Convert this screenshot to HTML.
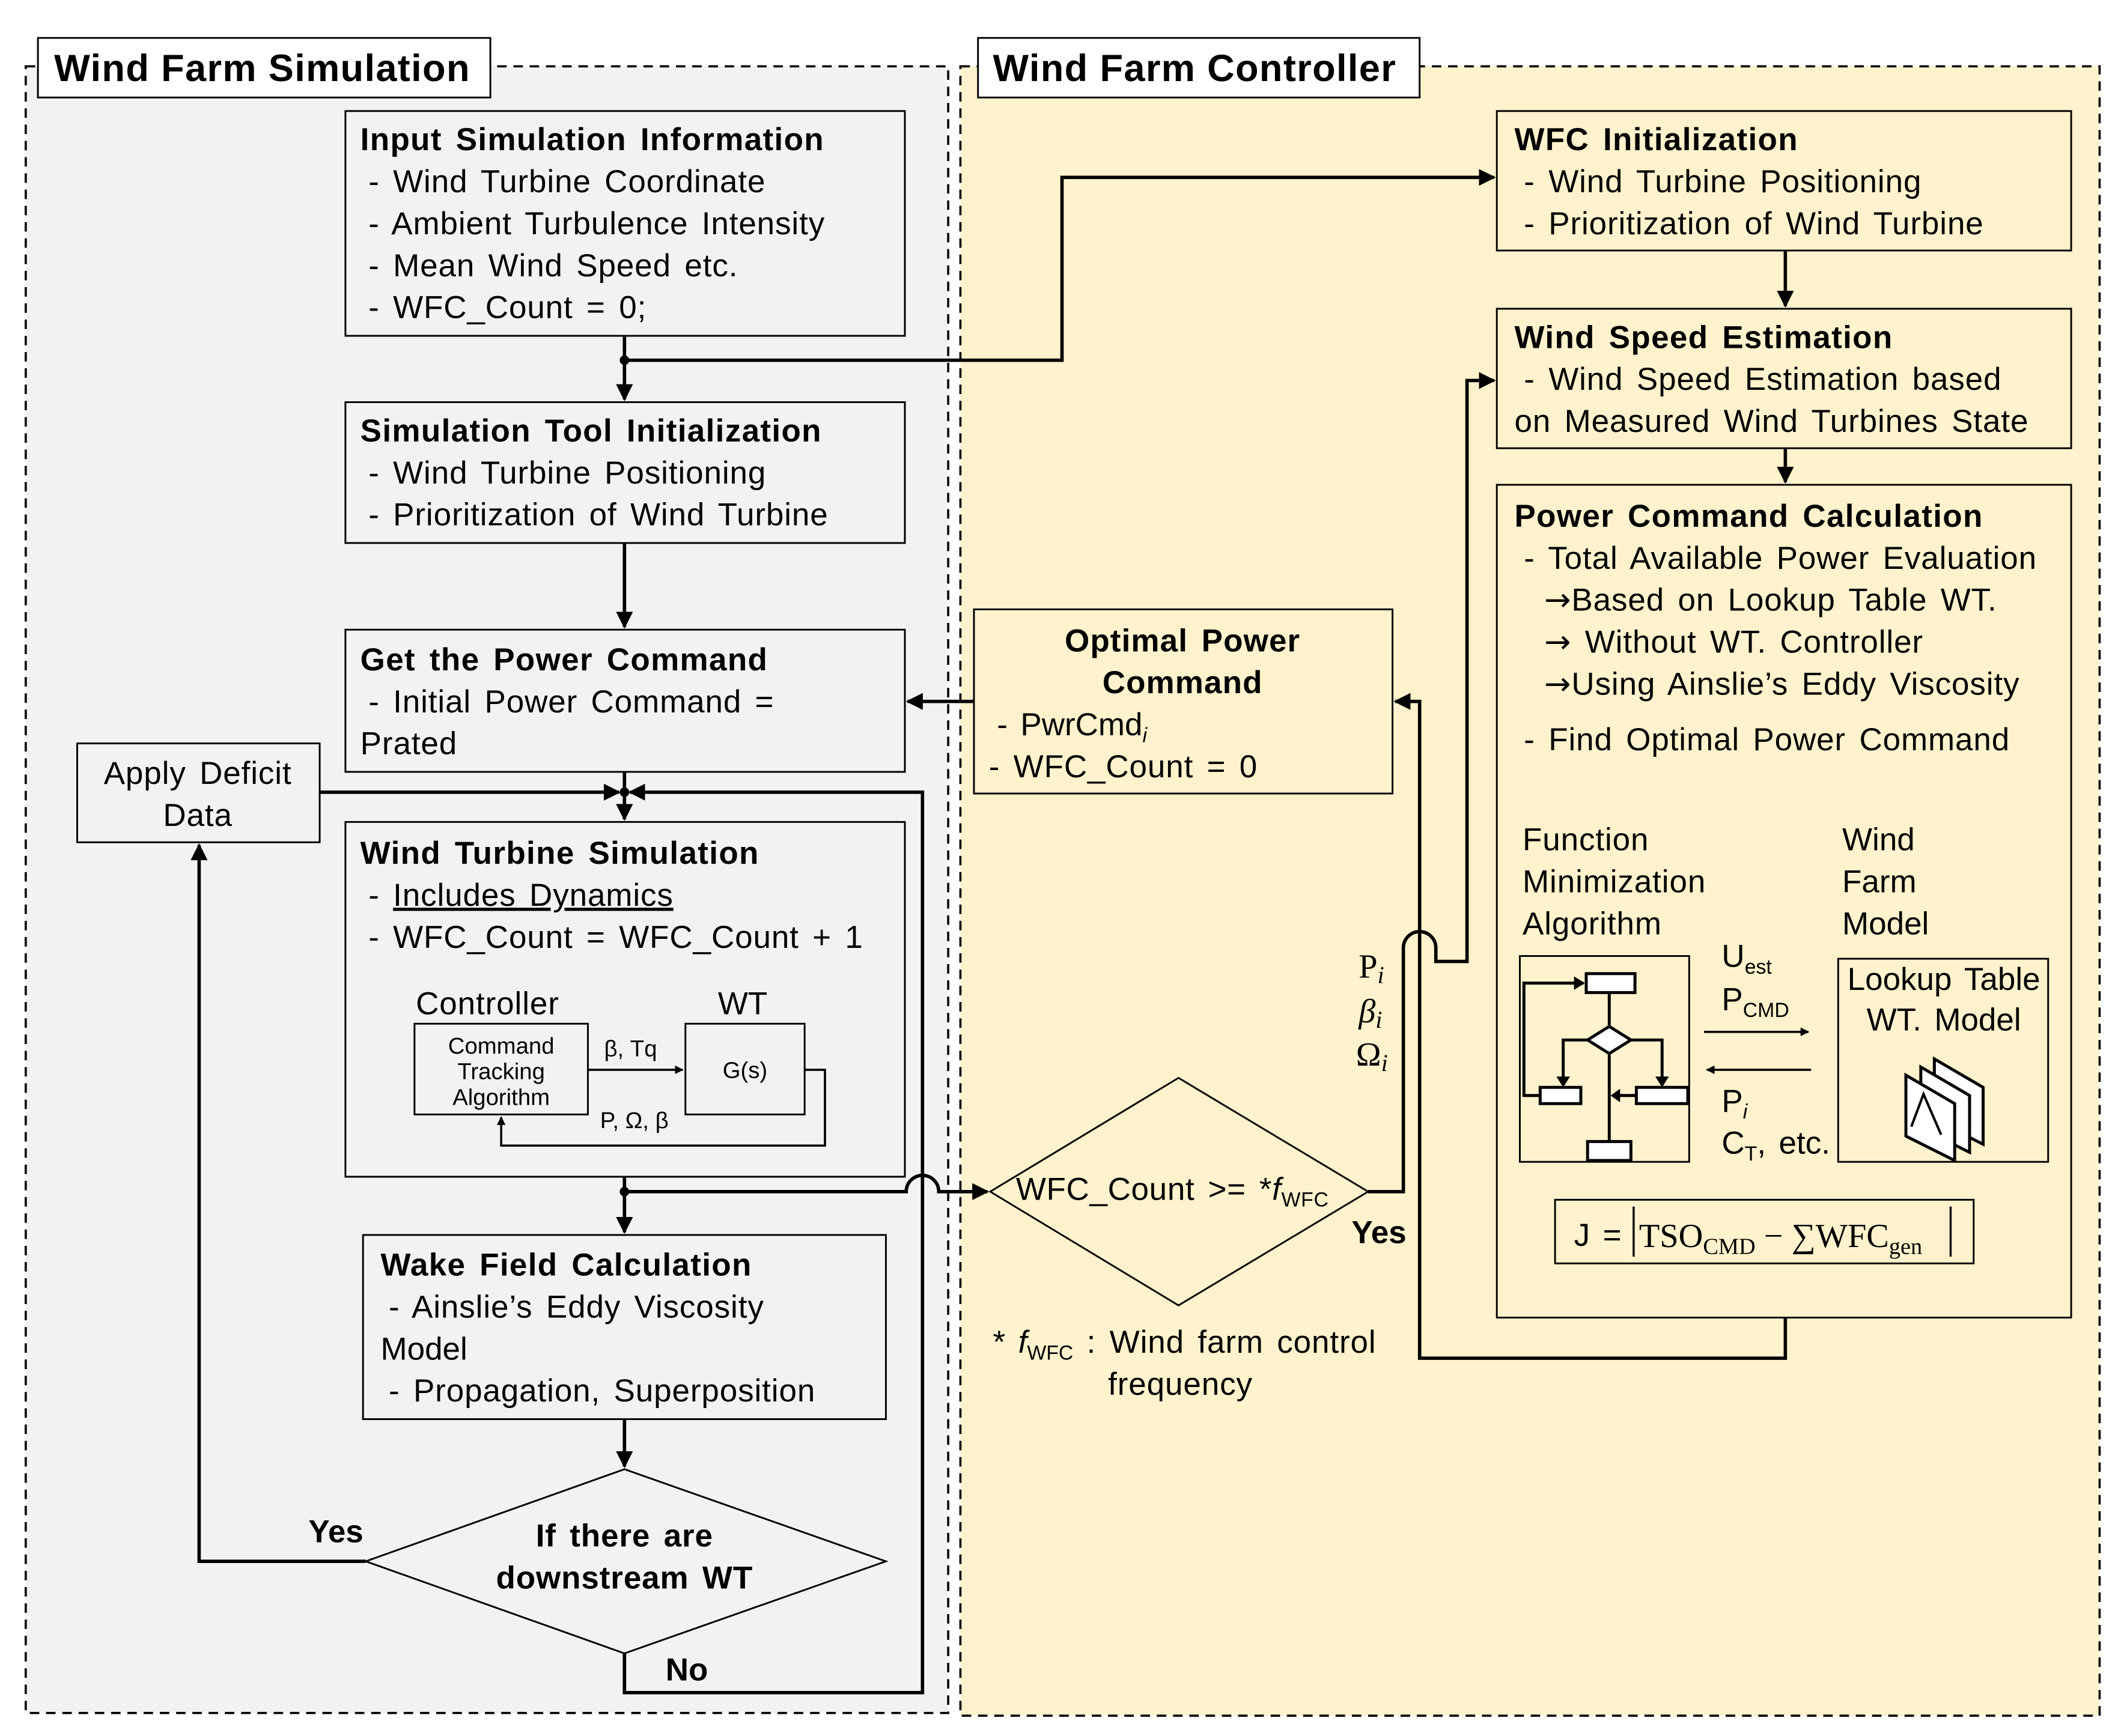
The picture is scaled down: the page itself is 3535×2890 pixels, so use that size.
<!DOCTYPE html>
<html><head><meta charset="utf-8"><style>html,body{margin:0;padding:0;background:#fff}svg{display:block}</style></head>
<body>
<svg xmlns="http://www.w3.org/2000/svg" width="3535" height="2890" viewBox="0 0 1568 1282" preserveAspectRatio="none" font-family="Liberation Sans, Arial, sans-serif">
<defs>
<marker id="a" viewBox="0 0 10 10" refX="9" refY="5" markerWidth="5" markerHeight="5" orient="auto"><path d="M0,0L10,5L0,10z" fill="#000"/></marker>
<marker id="s" viewBox="0 0 10 10" refX="9" refY="5" markerWidth="4" markerHeight="4" orient="auto"><path d="M0,0L10,5L0,10z" fill="#000"/></marker>
</defs>
<rect width="1568" height="1282" fill="#fff"/>
<rect x="19" y="49" width="681" height="1216" fill="#f2f2f2" stroke="#000" stroke-width="1.6" stroke-dasharray="7,5"/>
<rect x="709" y="49" width="841" height="1218" fill="#fff2cc" stroke="#000" stroke-width="1.6" stroke-dasharray="7,5"/>
<rect x="28" y="28" width="334" height="44" fill="#fff" stroke="#000" stroke-width="1.3"/>
<text x="40" y="60" font-size="28" font-weight="bold" letter-spacing="0.6">Wind Farm Simulation</text>
<rect x="722" y="28" width="326" height="44" fill="#fff" stroke="#000" stroke-width="1.3"/>
<text x="733" y="60" font-size="28" font-weight="bold" letter-spacing="0.6">Wind Farm Controller</text>

<g fill="none" stroke="#000" stroke-width="1.3">
<rect x="255" y="82" width="413" height="166"/>
<rect x="255" y="297" width="413" height="104"/>
<rect x="255" y="465" width="413" height="105"/>
<rect x="57" y="549" width="179" height="73"/>
<rect x="255" y="607" width="413" height="262"/>
<rect x="306" y="756" width="128" height="67"/>
<rect x="506" y="756" width="88" height="67"/>
<rect x="268" y="912" width="386" height="136"/>
<path d="M461,1085 L654,1153 L461,1221 L270,1153 Z"/>
<rect x="719" y="450" width="309" height="136"/>
<path d="M870,796 L1010,880 L870,964 L731,880 Z"/>
<rect x="1105" y="82" width="424" height="103"/>
<rect x="1105" y="228" width="424" height="103"/>
<rect x="1105" y="358" width="424" height="615"/>
<rect x="1122" y="706" width="125" height="152"/>
<rect x="1357" y="708" width="155" height="150"/>
<rect x="1148" y="886" width="309" height="47"/>
</g>

<g font-size="23.5" word-spacing="3">
<text x="266" y="111" font-weight="bold" letter-spacing="0.6">Input Simulation Information</text>
<text x="272" y="142" letter-spacing="0.4">- Wind Turbine Coordinate</text>
<text x="272" y="173" letter-spacing="0.4">- Ambient Turbulence Intensity</text>
<text x="272" y="204" letter-spacing="0.4">- Mean Wind Speed etc.</text>
<text x="272" y="235" letter-spacing="0.4">- WFC_Count = 0;</text>
<text x="266" y="326" font-weight="bold" letter-spacing="0.6">Simulation Tool Initialization</text>
<text x="272" y="357" letter-spacing="0.4">- Wind Turbine Positioning</text>
<text x="272" y="388" letter-spacing="0.4">- Prioritization of Wind Turbine</text>
<text x="266" y="495" font-weight="bold" letter-spacing="0.6">Get the Power Command</text>
<text x="272" y="526" letter-spacing="0.4">- Initial Power Command =</text>
<text x="266" y="557" letter-spacing="0.4">Prated</text>
<text x="146" y="579" text-anchor="middle" letter-spacing="0.4">Apply Deficit</text>
<text x="146" y="610" text-anchor="middle" letter-spacing="0.4">Data</text>
<text x="266" y="638" font-weight="bold" letter-spacing="0.6">Wind Turbine Simulation</text>
<text x="272" y="669" letter-spacing="0.4">- <tspan text-decoration="underline">Includes Dynamics</tspan></text>
<text x="272" y="700" letter-spacing="0.4">- WFC_Count = WFC_Count + 1</text>
<text x="307" y="749" letter-spacing="0.4">Controller</text>
<text x="530" y="749">WT</text>
<text x="281" y="942" font-weight="bold" letter-spacing="0.6">Wake Field Calculation</text>
<text x="287" y="973" letter-spacing="0.4">- Ainslie’s Eddy Viscosity</text>
<text x="281" y="1004">Model</text>
<text x="287" y="1035" letter-spacing="0.4">- Propagation, Superposition</text>
<text x="461" y="1142" text-anchor="middle" font-weight="bold" letter-spacing="0.4">If there are</text>
<text x="461" y="1173" text-anchor="middle" font-weight="bold" letter-spacing="0.4">downstream WT</text>
<text x="248" y="1139" text-anchor="middle" font-weight="bold">Yes</text>
<text x="507" y="1241" text-anchor="middle" font-weight="bold">No</text>
<text x="873" y="481" text-anchor="middle" font-weight="bold" letter-spacing="0.5">Optimal Power</text>
<text x="873" y="512" text-anchor="middle" font-weight="bold" letter-spacing="0.5">Command</text>
<text x="736" y="543">- PwrCmd<tspan font-style="italic" font-size="15" dy="5">i</tspan></text>
<text x="730" y="574" letter-spacing="0.4">- WFC_Count = 0</text>
<text x="750" y="886" letter-spacing="0.3">WFC_Count &gt;= *<tspan font-style="italic">f</tspan><tspan font-size="15" dy="5">WFC</tspan></text>
<text x="1018" y="918" text-anchor="middle" font-weight="bold">Yes</text>
<text x="733" y="999">* <tspan font-style="italic">f</tspan><tspan font-size="15" dy="5">WFC</tspan><tspan dy="-5" letter-spacing="0.4"> : Wind farm control</tspan></text>
<text x="818" y="1030" letter-spacing="0.4">frequency</text>
<text x="1118" y="111" font-weight="bold" letter-spacing="0.6">WFC Initialization</text>
<text x="1125" y="142" letter-spacing="0.4">- Wind Turbine Positioning</text>
<text x="1125" y="173" letter-spacing="0.4">- Prioritization of Wind Turbine</text>
<text x="1118" y="257" font-weight="bold" letter-spacing="0.6">Wind Speed Estimation</text>
<text x="1125" y="288" letter-spacing="0.4">- Wind Speed Estimation based</text>
<text x="1118" y="319" letter-spacing="0.4">on Measured Wind Turbines State</text>
<text x="1118" y="389" font-weight="bold" letter-spacing="0.6">Power Command Calculation</text>
<text x="1125" y="420" letter-spacing="0.4">- Total Available Power Evaluation</text>
<text x="1140" y="451" letter-spacing="0.4"><tspan font-family="DejaVu Sans, sans-serif">→</tspan>Based on Lookup Table WT.</text>
<text x="1140" y="482" letter-spacing="0.4"><tspan font-family="DejaVu Sans, sans-serif">→</tspan> Without WT. Controller</text>
<text x="1140" y="513" letter-spacing="0.4"><tspan font-family="DejaVu Sans, sans-serif">→</tspan>Using Ainslie’s Eddy Viscosity</text>
<text x="1125" y="554" letter-spacing="0.4">- Find Optimal Power Command</text>
<text x="1124" y="628" letter-spacing="0.4">Function</text>
<text x="1124" y="659" letter-spacing="0.4">Minimization</text>
<text x="1124" y="690" letter-spacing="0.4">Algorithm</text>
<text x="1360" y="628">Wind</text>
<text x="1360" y="659">Farm</text>
<text x="1360" y="690">Model</text>
<text x="1271" y="714">U<tspan font-size="15" dy="5">est</tspan></text>
<text x="1271" y="746">P<tspan font-size="15" dy="5">CMD</tspan></text>
<text x="1271" y="821">P<tspan font-size="15" font-style="italic" dy="5">i</tspan></text>
<text x="1271" y="852">C<tspan font-size="15" dy="5">T</tspan><tspan dy="-5">, etc.</tspan></text>
<text x="1435" y="731" text-anchor="middle">Lookup Table</text>
<text x="1435" y="761" text-anchor="middle">WT. Model</text>
<text x="1162" y="920">J = </text>
<text x="1210" y="921" font-family="Liberation Serif, serif" font-size="25" word-spacing="0">TSO<tspan font-size="17" dy="5">CMD</tspan><tspan dy="-5"> − ∑WFC</tspan><tspan font-size="17" dy="5">gen</tspan></text>
<line x1="1206" y1="891" x2="1206" y2="928" stroke="#000" stroke-width="1.5"/>
<line x1="1440" y1="891" x2="1440" y2="928" stroke="#000" stroke-width="1.5"/>
</g>
<g font-family="Liberation Serif, serif" font-size="25">
<text x="1003" y="722">P<tspan font-style="italic" font-size="18" dy="4">i</tspan></text>
<text x="1003" y="755" font-style="italic">β<tspan font-size="18" dy="4">i</tspan></text>
<text x="1001" y="787">Ω<tspan font-style="italic" font-size="18" dy="4">i</tspan></text>
</g>
<g font-size="17">
<text x="370" y="778" text-anchor="middle">Command</text>
<text x="370" y="797" text-anchor="middle">Tracking</text>
<text x="370" y="816" text-anchor="middle">Algorithm</text>
<text x="446" y="780">β, Tq</text>
<text x="443" y="833">P, Ω, β</text>
<text x="550" y="796" text-anchor="middle">G(s)</text>
</g>

<g fill="none" stroke="#000" stroke-width="2.5">
<path d="M461,248 V295" marker-end="url(#a)"/>
<path d="M461,266 H784 V131 H1103" marker-end="url(#a)"/>
<path d="M461,401 V463" marker-end="url(#a)"/>
<path d="M461,570 V605" marker-end="url(#a)"/>
<path d="M236,585 H457" marker-end="url(#a)"/>
<path d="M461,1221 V1250 H681 V585 H465" marker-end="url(#a)"/>
<path d="M461,869 V910" marker-end="url(#a)"/>
<path d="M461,880 H669 A12,12 0 0 1 693,880 H729" marker-end="url(#a)"/>
<path d="M461,1048 V1083" marker-end="url(#a)"/>
<path d="M270,1153 H147 V624" marker-end="url(#a)"/>
<path d="M1318,185 V226" marker-end="url(#a)"/>
<path d="M1318,331 V356" marker-end="url(#a)"/>
<path d="M1318,973 V1003 H1048 V518 H1030" marker-end="url(#a)"/>
<path d="M719,518 H670" marker-end="url(#a)"/>
<path d="M1010,880 H1036 V700 A12,12 0 0 1 1060,700 V710 H1083 V281 H1103" marker-end="url(#a)"/>
</g>
<circle cx="461" cy="266" r="3.5"/>
<circle cx="461" cy="585" r="3.5"/>
<circle cx="461" cy="880" r="3.5"/>
<g fill="none" stroke="#000" stroke-width="1.6">
<path d="M434,790 H504" marker-end="url(#s)"/>
<path d="M594,790 H609 V846 H370 V825" marker-end="url(#s)"/>
<path d="M1258,762 H1335" marker-end="url(#s)"/>
<path d="M1337,790 H1260" marker-end="url(#s)"/>
</g>
<g fill="#fff" stroke="#000" stroke-width="2.2">
<rect x="1171" y="719" width="36" height="14"/>
<rect x="1137" y="803" width="30" height="12"/>
<rect x="1208" y="803" width="38" height="12"/>
<rect x="1172" y="843" width="32" height="14"/>
<path d="M1188,758 L1204,768 L1188,778 L1172,768Z"/>
</g>
<g fill="none" stroke="#000" stroke-width="2.2">
<path d="M1188,733 V758 M1188,778 V843 M1172,768 H1154 V801 M1204,768 H1227 V801 M1208,809 H1191 M1137,809 H1125 V726 H1169"/>
</g>
<g fill="#000"><path d="M1149,795 L1159,795 L1154,803Z M1222,795 L1232,795 L1227,803Z M1196,804 L1196,814 L1189,809Z M1162,721 L1170,726 L1162,731Z"/></g>
<g fill="#fff" stroke="#000" stroke-width="2.2">
<path d="M1428,782 L1464,803 L1464,845 L1428,827Z"/>
<path d="M1418,788 L1454,809 L1454,851 L1418,833Z"/>
<path d="M1407,794 L1443,815 L1443,857 L1407,839Z"/>
<path d="M1411,832 L1420,808 L1433,838" fill="none" stroke-width="1.8"/>
</g>
</svg>
</body></html>
